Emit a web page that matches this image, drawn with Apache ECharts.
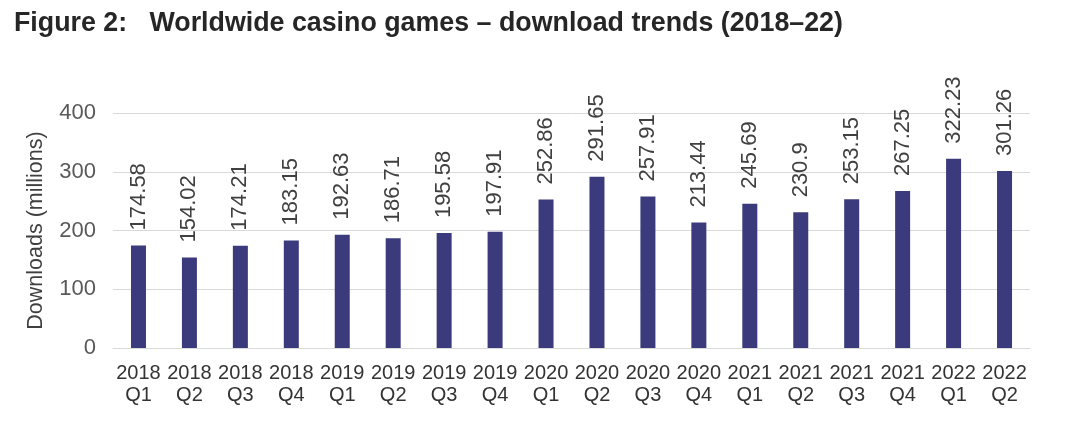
<!DOCTYPE html>
<html>
<head>
<meta charset="utf-8">
<script src="https://cdn.jsdelivr.net/npm/echarts@6/dist/echarts.min.js"></script>
<style>
  html, body { margin: 0; padding: 0; background: #fff; }
  #chart { width: 1069px; height: 425px; }
</style>
</head>
<body>
<div id="chart"></div>
<script>
// quarters (two-line axis labels)
var quarters = [
  "2018\nQ1", "2018\nQ2", "2018\nQ3", "2018\nQ4",
  "2019\nQ1", "2019\nQ2", "2019\nQ3", "2019\nQ4",
  "2020\nQ1", "2020\nQ2", "2020\nQ3", "2020\nQ4",
  "2021\nQ1", "2021\nQ2", "2021\nQ3", "2021\nQ4",
  "2022\nQ1", "2022\nQ2"
];
// downloads, millions
var downloads = [
  174.58, 154.02, 174.21, 183.15,
  192.63, 186.71, 195.58, 197.91,
  252.86, 291.65, 257.91, 213.44,
  245.69, 230.9, 253.15, 267.25,
  322.23, 301.26
];
var yTicks = [0, 100, 200, 300, 400];

var font = "Liberation Sans, Arial, sans-serif";
var chart = echarts.init(document.getElementById("chart"));

chart.setOption({
  animation: false,
  title: {
    text: "Figure 2:   Worldwide casino games \u2013 download trends (2018\u201322)",
    left: 9,
    top: 5,
    textStyle: {
      fontFamily: font,
      fontWeight: "bold",
      fontSize: 26.8,
      color: "#262626"
    }
  },
  grid: {
    left: 113,
    right: 39,
    top: 113,
    bottom: 77
  },
  xAxis: {
    type: "category",
    data: quarters,
    axisTick: { show: false },
    axisLine: { lineStyle: { color: "#d9d9d9", width: 1 } },
    axisLabel: {
      fontFamily: font,
      fontSize: 20,
      lineHeight: 22,
      color: "#333333",
      margin: 14,
      interval: 0
    }
  },
  yAxis: {
    type: "value",
    min: yTicks[0],
    max: yTicks[yTicks.length - 1],
    interval: 100,
    name: "Downloads (millions)",
    nameLocation: "middle",
    nameGap: 66,
    nameTextStyle: {
      fontFamily: font,
      fontSize: 21.5,
      color: "#404040"
    },
    axisLine: { show: false },
    axisTick: { show: false },
    axisLabel: {
      fontFamily: font,
      fontSize: 22,
      color: "#595959",
      margin: 17
    },
    splitLine: { lineStyle: { color: "#d9d9d9", width: 1 } }
  },
  series: [
    {
      type: "bar",
      data: downloads,
      barWidth: 15,
      itemStyle: { color: "#3a3a7c" },
      label: {
        show: true,
        position: "top",
        rotate: 90,
        align: "left",
        verticalAlign: "middle",
        distance: 15,
        fontFamily: font,
        fontSize: 22,
        color: "#404040"
      }
    }
  ]
});
</script>
</body>
</html>
